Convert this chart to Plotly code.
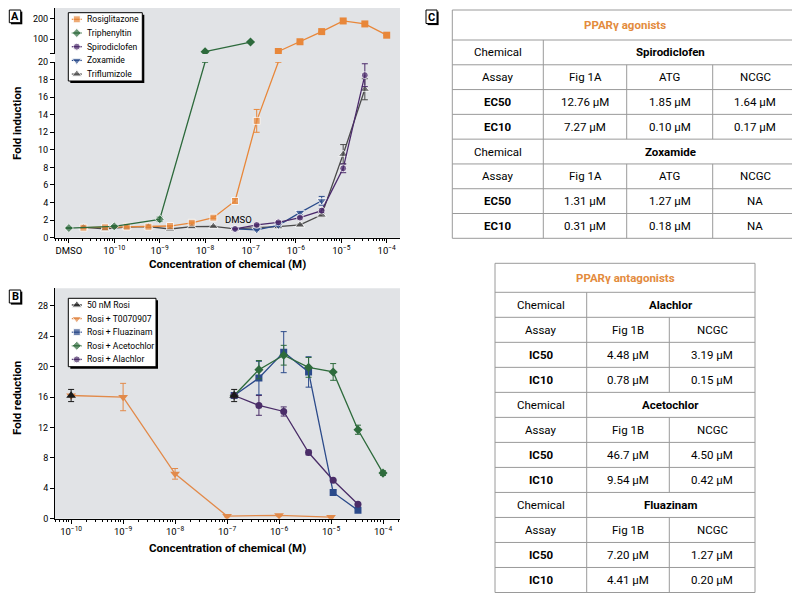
import numpy as np
import plotly.graph_objects as go

W, H = 800, 594
OFF = 8  # page body margin in the viewer
def PX(x): return (x - OFF) / W
def PY(y): return 1 - (y - OFF) / H

FONT = "Roboto, Liberation Sans, Arial, sans-serif"

# ---------------- Panel A data (agonists) ----------------
rosi_x = [2.09e-11, 6.27e-11, 1.88e-10, 5.65e-10, 1.69e-9, 5.08e-9, 1.52e-8, 4.57e-8,
          1.37e-7, 4.1e-7, 1.23e-6, 3.7e-6, 1.1e-5, 3.3e-5, 1e-4]
rosi_y = [1.14, 1.18, 1.25, 1.25, 1.33, 1.7, 2.28, 4.18, 13.3, 66, 92, 130, 187, 169, 115]
rosi_e = [0.05, 0.05, 0.05, 0.05, 0.05, 0.1, 0.1, 0.25, 1.3, 0, 0, 0, 0, 0, 0]

tph_x = [1e-11, 1e-10, 1e-9, 1e-8, 1e-7]
tph_y = [1.1, 1.29, 2.09, 65.5, 91]
tph_e = [0.05, 0.1, 0.25, 0, 0]

spiro_x = [4.57e-8, 1.37e-7, 4.1e-7, 1.23e-6, 3.7e-6, 1.1e-5, 3.3e-5]
spiro_y = [1.0, 1.45, 1.75, 2.28, 3.08, 7.9, 18.5]
spiro_e = [0.05, 0.1, 0.1, 0.15, 0.2, 0.5, 1.3]

zox_x = [4.57e-8, 1.37e-7, 4.1e-7, 1.23e-6, 3.7e-6]
zox_y = [1.0, 0.9, 1.4, 2.85, 4.2]
zox_e = [0.05, 0.1, 0.1, 0.2, 0.5]

trif_x = [2.09e-11, 6.27e-11, 1.88e-10, 5.65e-10, 1.69e-9, 5.08e-9, 1.52e-8, 4.57e-8,
          1.37e-7, 4.1e-7, 1.23e-6, 3.7e-6, 1.1e-5, 3.3e-5]
trif_y = [1.18, 1.0, 1.2, 1.25, 0.99, 1.25, 1.3, 1.0, 1.15, 1.25, 1.45, 2.6, 9.5, 16.9]
trif_e = [0.05, 0.05, 0.05, 0.05, 0.05, 0.05, 0.05, 0.05, 0.1, 0.1, 0.1, 0.2, 1.1, 1.2]

a_names = ["Rosiglitazone", "Triphenyltin", "Spirodiclofen", "Zoxamide", "Triflumizole"]
a_colors = ["#e8873a", "#2d6a3c", "#4b2a6b", "#2b4c8c", "#4a4a4a"]
a_symbols = ["square", "diamond", "circle", "triangle-down", "triangle-up"]

# ---------------- Panel B data (antagonists) ----------------
r50_x = [1e-10, 1.37e-7]
r50_y = [16.2, 16.2]
r50_e = [0.8, 0.8]

t007_x = [1e-10, 1e-9, 1e-8, 1e-7, 1e-6, 1e-5]
t007_y = [16.2, 16.0, 5.9, 0.35, 0.45, 0.22]
t007_e = [0, 1.8, 0.7, 0.1, 0.1, 0.1]

flu_x = [1.37e-7, 4.1e-7, 1.23e-6, 3.7e-6, 1.1e-5, 3.3e-5]
flu_y = [16.2, 18.5, 21.9, 19.3, 3.45, 1.1]
flu_e = [0, 2.2, 2.7, 2.0, 0.3, 0.15]

ace_x = [1.37e-7, 4.1e-7, 1.23e-6, 3.7e-6, 1.1e-5, 3.3e-5, 1e-4]
ace_y = [16.2, 19.6, 21.5, 19.9, 19.3, 11.7, 6.0]
ace_e = [0, 1.2, 1.3, 1.3, 1.1, 0.6, 0.3]

ala_x = [1.37e-7, 4.1e-7, 1.23e-6, 3.7e-6, 1.1e-5, 3.3e-5]
ala_y = [16.2, 14.9, 14.1, 8.7, 5.05, 1.9]
ala_e = [0, 1.3, 0.6, 0.3, 0.1, 0.1]

b_names = ["50 nM Rosi", "Rosi + T0070907", "Rosi + Fluazinam", "Rosi + Acetochlor", "Rosi + Alachlor"]
b_colors = ["#1a1a1a", "#e28a4a", "#2b4a8a", "#2e6b3c", "#4a2d68"]
b_symbols = ["triangle-up", "triangle-down", "square", "diamond", "circle"]

# ---------------- Tables ----------------
ag_title = "PPARγ agonists"
ag_chems = ["Spirodiclofen", "Zoxamide"]
ag_assays = ["Fig 1A", "ATG", "NCGC"]
ag_ec50 = [["12.76 µM", "1.85 µM", "1.64 µM"], ["1.31 µM", "1.27 µM", "NA"]]
ag_ec10 = [["7.27 µM", "0.10 µM", "0.17 µM"], ["0.31 µM", "0.18 µM", "NA"]]

an_title = "PPARγ antagonists"
an_chems = ["Alachlor", "Acetochlor", "Fluazinam"]
an_assays = ["Fig 1B", "NCGC"]
an_ic50 = [["4.48 µM", "3.19 µM"], ["46.7 µM", "4.50 µM"], ["7.20 µM", "1.27 µM"]]
an_ic10 = [["0.78 µM", "0.15 µM"], ["9.54 µM", "0.42 µM"], ["4.41 µM", "0.20 µM"]]

# ---------------- Figure ----------------
fig = go.Figure()
BREAK = 20.0

def msize(symbol):
    return 8.5 if symbol.startswith("triangle") else 7

def add_series(x, y, e, color, symbol, xa, ya, mode="lines+markers"):
    fig.add_trace(go.Scatter(
        x=x, y=y, mode=mode, xaxis=xa, yaxis=ya, showlegend=False,
        line=dict(color=color, width=1.3),
        marker=dict(color=color, symbol=symbol, size=msize(symbol)),
        error_y=dict(type="data", array=e, visible=True, color=color, thickness=1, width=3),
        cliponaxis=True, hoverinfo="skip"))

a_data = [(rosi_x, rosi_y, rosi_e), (tph_x, tph_y, tph_e), (spiro_x, spiro_y, spiro_e),
          (zox_x, zox_y, zox_e), (trif_x, trif_y, trif_e)]
order_a = [4, 3, 2, 0, 1]
for i in order_a:
    x, y, e = a_data[i]
    y = np.array(y, dtype=float)
    low = np.where(y <= BREAK)[0]
    high = np.where(y > BREAK)[0]
    idx = list(low)
    if len(high):
        idx.append(high[0])
    bx = [x[k] for k in idx]
    by = list(np.minimum(y[idx], BREAK))
    be = [e[k] if y[k] <= BREAK else 0 for k in idx]
    bs = [msize(a_symbols[i]) if y[k] <= BREAK else 0 for k in idx]
    fig.add_trace(go.Scatter(
        x=bx, y=by, mode="lines+markers", xaxis="x", yaxis="y", showlegend=False,
        line=dict(color=a_colors[i], width=1.3),
        marker=dict(color=a_colors[i], symbol=a_symbols[i], size=bs),
        error_y=dict(type="data", array=be, visible=True, color=a_colors[i], thickness=1, width=3),
        hoverinfo="skip"))
    if len(high):
        add_series([x[k] for k in high], list(y[high]), [e[k] for k in high],
                   a_colors[i], a_symbols[i], "x", "y2")

b_data = [(r50_x, r50_y, r50_e), (t007_x, t007_y, t007_e), (flu_x, flu_y, flu_e),
          (ace_x, ace_y, ace_e), (ala_x, ala_y, ala_e)]
for i in [1, 2, 3, 4, 0]:
    x, y, e = b_data[i]
    add_series(x, y, e, b_colors[i], b_symbols[i], "x3", "y3",
               mode="markers" if i == 0 else "lines+markers")

shapes = []
annots = []

def text_at(x, y, t, size, color="black", xanchor="center", angle=0, xref="paper", yref="paper"):
    annots.append(dict(x=PX(x) if xref == "paper" else x, y=PY(y) if yref == "paper" else y,
                       xref=xref, yref=yref, text=t, showarrow=False,
                       xanchor=xanchor, yanchor="middle", textangle=angle,
                       font=dict(family=FONT, size=size, color=color)))

GRAY = "#e1e3e6"
shapes.append(dict(type="rect", xref="paper", yref="paper", x0=PX(55), x1=PX(400),
                   y0=PY(237.7), y1=PY(8), fillcolor=GRAY, line=dict(width=0), layer="below"))
shapes.append(dict(type="rect", xref="paper", yref="paper", x0=PX(55), x1=PX(400),
                   y0=PY(518.7), y1=PY(288.3), fillcolor=GRAY, line=dict(width=0), layer="below"))

def box_with_shadow(x0, y0, x1, y1, off=2):
    shapes.append(dict(type="rect", xref="paper", yref="paper", x0=PX(x0 + off), x1=PX(x1 + off),
                       y0=PY(y1 + off), y1=PY(y0 + off), fillcolor="black",
                       line=dict(width=0), layer="below"))
    shapes.append(dict(type="rect", xref="paper", yref="paper", x0=PX(x0), x1=PX(x1),
                       y0=PY(y1), y1=PY(y0), fillcolor="white",
                       line=dict(color="black", width=1), layer="below"))

def legend(names, colors, symbols, box, y_first, dy):
    box_with_shadow(*box)
    for k, (n, c, s) in enumerate(zip(names, colors, symbols)):
        yc = y_first + k * dy
        fig.add_trace(go.Scatter(
            x=[box[0] + 3.5, box[0] + 8.5, box[0] + 13.5], y=[yc, yc, yc],
            mode="lines+markers", xaxis="x4", yaxis="y4", showlegend=False,
            line=dict(color=c, width=1.3),
            marker=dict(color=c, symbol=s, size=[0, msize(s), 0]), hoverinfo="skip"))
        text_at(box[0] + 17, yc, n, 8.6, xanchor="left")

legend(a_names, a_colors, a_symbols, (68.3, 12.7, 142.3, 81), 19.3, 13.7)
legend(b_names, b_colors, b_symbols, (68.3, 298.3, 156, 366.7), 305, 13.6)

for letter, (x0, y0, x1, y1) in zip(["A", "B", "C"],
                                    [(9.3, 10, 20.7, 22.7), (9.3, 290, 20.7, 303),
                                     (426, 10, 437, 23.5)]):
    box_with_shadow(x0, y0, x1, y1, off=1.6)
    text_at((x0 + x1) / 2, (y0 + y1) / 2 + 0.3, "<b>%s</b>" % letter, 11)

TS = 11.5
text_at(17, 124, "<b>Fold induction</b>", TS, angle=-90)
text_at(17, 398, "<b>Fold reduction</b>", TS, angle=-90)
text_at(227, 264, "<b>Concentration of chemical (M)</b>", TS)
text_at(227, 548, "<b>Concentration of chemical (M)</b>", TS)
text_at(np.log10(4.57e-8) + 0.07, 2.05, "DMSO", 9.5, xref="x", yref="y")

LC = "#9a9a9a"
CS = 11.5

def hline(x0, x1, y):
    shapes.append(dict(type="line", xref="paper", yref="paper", x0=PX(x0), x1=PX(x1),
                       y0=PY(y), y1=PY(y), line=dict(color=LC, width=1)))

def vline(x, y0, y1):
    shapes.append(dict(type="line", xref="paper", yref="paper", x0=PX(x), x1=PX(x),
                       y0=PY(y0), y1=PY(y1), line=dict(color=LC, width=1)))

def cell_text(x, y, t, bold=False, color="black"):
    text_at(x, y, "<b>%s</b>" % t if bold else t, CS, color=color)

def draw_table(cols, top, head_bot, bottom, title, chems, assays, v50, v10, lab50, lab10):
    nrows = 4 * len(chems)
    rh = (bottom - head_bot) / nrows
    shapes.append(dict(type="rect", xref="paper", yref="paper", x0=PX(cols[0]), x1=PX(cols[-1]),
                       y0=PY(bottom), y1=PY(top), line=dict(color=LC, width=1)))
    hline(cols[0], cols[-1], head_bot)
    cell_text((cols[0] + cols[-1]) / 2, (top + head_bot) / 2, title, bold=True, color="#e38b3d")
    vline(cols[1], head_bot, bottom)
    for b, chem in enumerate(chems):
        r0 = head_bot + 4 * b * rh
        for r in range(4):
            if (b * 4 + r) < nrows - 1:
                hline(cols[0], cols[-1], r0 + (r + 1) * rh)
        for c in cols[2:-1]:
            vline(c, r0 + rh, r0 + 4 * rh)
        mids = [r0 + (r + 0.5) * rh for r in range(4)]
        cx0 = (cols[0] + cols[1]) / 2
        cell_text(cx0, mids[0], "Chemical")
        cell_text((cols[1] + cols[-1]) / 2, mids[0], chem, bold=True)
        cell_text(cx0, mids[1], "Assay")
        cell_text(cx0, mids[2], lab50, bold=True)
        cell_text(cx0, mids[3], lab10, bold=True)
        for j in range(len(assays)):
            cx = (cols[j + 1] + cols[j + 2]) / 2
            cell_text(cx, mids[1], assays[j])
            cell_text(cx, mids[2], v50[b][j])
            cell_text(cx, mids[3], v10[b][j])

draw_table([452.3, 543.3, 626.7, 712.7, 797.5], 10, 40, 238.3, ag_title,
           ag_chems, ag_assays, ag_ec50, ag_ec10, "EC50", "EC10")
draw_table([495, 586.7, 669.3, 755], 263.3, 292.3, 592.5, an_title,
           an_chems, an_assays, an_ic50, an_ic10, "IC50", "IC10")

sup = lambda n: "10<sup>\u2212%d</sup>" % n
major_a = [10.0 ** -k for k in range(11, 3, -1)]
text_a = ["DMSO"] + [sup(k) for k in range(10, 3, -1)]
major_b = [10.0 ** -k for k in range(10, 3, -1)]
text_b = [sup(k) for k in range(10, 3, -1)]
minor_vals = [m * 10.0 ** e for e in range(-12, -3) for m in range(2, 10)]

TICKF = dict(family=FONT, size=9.5, color="black")
common_x = dict(type="log", showline=True, linecolor="black", linewidth=1, ticks="outside",
                ticklen=4, tickcolor="black", showgrid=False, zeroline=False, tickfont=TICKF,
                automargin=False,
                minor=dict(tickvals=minor_vals, ticks="outside", ticklen=2, tickcolor="black",
                           showgrid=False))
common_y = dict(showline=True, linecolor="black", linewidth=1, ticks="outside", ticklen=4,
                tickcolor="black", showgrid=False, zeroline=False, automargin=False,
                tickfont=dict(family=FONT, size=9, color="black"))

top_lo, top_hi = 1.782, 2.464
fig.update_layout(
    width=W, height=H, margin=dict(l=0, r=0, t=0, b=0, pad=0), autosize=False,
    paper_bgcolor="white", plot_bgcolor="rgba(0,0,0,0)", showlegend=False,
    font=dict(family=FONT, color="black"),
    xaxis=dict(common_x, domain=[PX(55), PX(400)], range=[-11.306, -3.707], anchor="y",
               tickvals=major_a, ticktext=text_a),
    yaxis=dict(common_y, domain=[PY(237.7), PY(62)], range=[0, 20], anchor="x",
               tickvals=list(range(0, 21, 2))),
    yaxis2=dict(common_y, type="log", domain=[PY(54), PY(8)], range=[top_lo, top_hi], anchor="x",
                tickvals=[10 ** (top_lo + 0.004), 100, 200], ticktext=["", "100", "200"]),
    xaxis3=dict(common_x, domain=[PX(55), PX(400)], range=[-10.31, -3.673], anchor="y3",
                tickvals=major_b, ticktext=text_b),
    yaxis3=dict(common_y, domain=[PY(518.7), PY(288.3)], range=[0, 30.3], anchor="x3",
                tickvals=list(range(0, 29, 4))),
    xaxis4=dict(domain=[0, 1], range=[OFF, W + OFF], visible=False, fixedrange=True, anchor="y4",
                automargin=False),
    yaxis4=dict(domain=[0, 1], range=[H + OFF, OFF], visible=False, fixedrange=True, anchor="x4",
                automargin=False),
    shapes=shapes, annotations=annots,
)

fig.write_html("out.html")
